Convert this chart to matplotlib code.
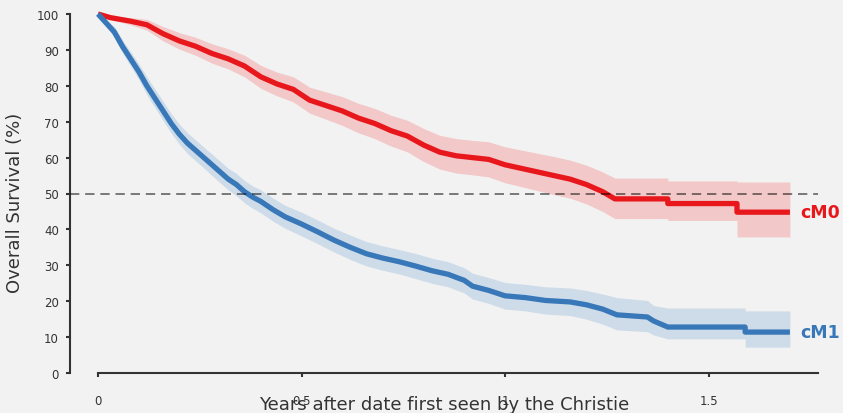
import matplotlib
matplotlib.use("Agg")
import matplotlib.pyplot as plt

plt.rcParams['font.family'] = ['DejaVu Sans']

# cM0 survival curve (years, %) with confidence band; repeated times are drops
red_t = [0, 0.03, 0.08, 0.12, 0.16, 0.20, 0.24, 0.28, 0.32, 0.36, 0.40, 0.44, 0.48,
         0.52, 0.56, 0.60, 0.64, 0.68, 0.72, 0.76, 0.80, 0.84, 0.88, 0.92, 0.96, 1.00,
         1.04, 1.08, 1.12, 1.16, 1.20, 1.24, 1.27, 1.40, 1.40, 1.57, 1.57, 1.70]
red_s = [100, 99, 98, 97, 94.5, 92.5, 91, 89, 87.5, 85.5, 82.5, 80.5, 79,
         76, 74.5, 73, 71, 69.5, 67.5, 66, 63.5, 61.5, 60.5, 60, 59.5, 58,
         57, 56, 55, 54, 52.5, 50.5, 48.5, 48.5, 47.2, 47.2, 44.8, 44.8]
red_lo = [100, 98.5, 97, 95.5, 92.5, 90.2, 88.5, 86.3, 84.7, 82.5, 79.3, 77.2, 75.5,
          72.4, 70.7, 69, 66.9, 65.3, 63.2, 61.6, 58.9, 56.8, 55.7, 55.2, 54.6, 53,
          51.9, 50.8, 49.7, 48.7, 47.1, 45, 43, 43, 42.5, 42.5, 37.9, 37.9]
red_hi = [100, 99.5, 99, 98.5, 96.5, 94.8, 93.5, 91.7, 90.3, 88.5, 85.7, 83.8, 82.5,
          79.6, 78.3, 77, 75.1, 73.7, 71.8, 70.4, 68.1, 66.2, 65.3, 64.8, 64.4, 63,
          62.1, 61.2, 60.3, 59.3, 57.9, 56, 54.3, 54.3, 53.5, 53.5, 53.2, 53.2]

# cM1 survival curve
blue_t = [0, 0.02, 0.04, 0.06, 0.08, 0.10, 0.12, 0.14, 0.16, 0.18, 0.20, 0.22, 0.24,
          0.26, 0.28, 0.30, 0.32, 0.34, 0.36, 0.38, 0.40, 0.43, 0.46, 0.50, 0.54, 0.58,
          0.62, 0.66, 0.70, 0.74, 0.78, 0.82, 0.86, 0.90, 0.92, 0.96, 1.00, 1.05, 1.10,
          1.16, 1.20, 1.24, 1.275, 1.35, 1.365, 1.40, 1.59, 1.59, 1.70]
blue_s = [100, 97.5, 95, 91, 87.5, 84, 80, 76.5, 73, 69.5, 66.5, 64, 62,
          60, 58, 56, 54, 52.5, 50.5, 49, 47.8, 45.5, 43.5, 41.5, 39.3, 37,
          35, 33.2, 32, 31, 29.8, 28.5, 27.5, 25.8, 24.2, 23, 21.5, 21, 20.2,
          19.8, 19, 17.8, 16.2, 15.6, 14.5, 12.8, 12.8, 11.4, 11.4]
blue_lo = [100, 96.7, 93.5, 89.2, 85.5, 81.8, 77.5, 73.9, 70.3, 66.8, 63.7, 61.1, 59.1,
           57.1, 55, 53, 51, 49.4, 47.4, 45.9, 44.6, 42.3, 40.3, 38.2, 36, 33.7,
           31.6, 29.8, 28.6, 27.6, 26.3, 25, 24, 22.3, 20.6, 19.4, 17.8, 17.3, 16.4,
           16, 15, 13.6, 12, 11.5, 10.6, 9.5, 9.5, 7.2, 7.2]
blue_hi = [100, 98.3, 96.5, 92.8, 89.5, 86.2, 82.5, 79.1, 75.7, 72.2, 69.3, 66.9, 64.9,
           62.9, 61, 59, 57, 55.6, 53.6, 52.1, 51, 48.7, 46.7, 44.8, 42.6, 40.3,
           38.4, 36.6, 35.4, 34.4, 33.3, 32, 31, 29.3, 27.8, 26.6, 25.2, 24.7, 24,
           23.7, 23, 22, 21, 20.2, 18.8, 18.1, 18.1, 17.3, 17.3]

x_ticks = [0, 0.5, 1, 1.5]
x_tick_labels = ['0', '0.5', '1', '1.5']
y_ticks = list(range(0, 101, 10))

bg = '#f2f2f2'
red = '#e8171c'
red_band = '#f2c8c9'
blue = '#3878b8'
blue_band = '#cedce9'
ink = '#333333'

fig = plt.figure(figsize=(8.43, 4.14), dpi=100, facecolor=bg)
ax = fig.add_axes([70 / 843, 40 / 414, 748 / 843, 359 / 414], facecolor=bg)

ax.fill_between(red_t, red_lo, red_hi, color=red_band, lw=0, zorder=1)
ax.fill_between(blue_t, blue_lo, blue_hi, color=blue_band, lw=0, zorder=1)
ax.plot(red_t, red_s, color=red, lw=3.8, zorder=3, clip_on=False,
        solid_capstyle='butt')
ax.plot(blue_t, blue_s, color=blue, lw=3.8, zorder=3, clip_on=False,
        solid_capstyle='butt')

# median line
ax.axhline(50, color='black', alpha=0.5, lw=1.4, dashes=(4.8, 3), zorder=4)

ax.text(red_t[-1] + 0.025, red_s[-1], 'cM0', color=red, fontsize=12.5,
        fontweight='bold', va='center', ha='left')
ax.text(blue_t[-1] + 0.025, blue_s[-1], 'cM1', color=blue, fontsize=12.5,
        fontweight='bold', va='center', ha='left')

ax.set_xlim(-28 / 407, 720 / 407)
ax.set_ylim(0, 100)

for s in ['top', 'right']:
    ax.spines[s].set_visible(False)
ax.spines['left'].set_bounds(0, 100)
ax.spines['bottom'].set_bounds(0, 720 / 407)
for s in ['left', 'bottom']:
    ax.spines[s].set_color(ink)
    ax.spines[s].set_linewidth(1.5)

ax.set_xticks(x_ticks)
ax.set_xticklabels(x_tick_labels)
ax.set_yticks(y_ticks)
ax.tick_params(axis='y', direction='out', length=3, width=1.5, color=ink,
               labelsize=8.5, pad=5, labelcolor=ink)
ax.tick_params(axis='x', direction='out', length=3, width=1.5, color=ink,
               labelsize=8.5, pad=12, labelcolor=ink)

ax.set_ylabel('Overall Survival (%)', fontsize=13, color=ink, va='center')
ax.yaxis.set_label_coords(-0.0735, 0.476)
ax.set_xlabel('Years after date first seen by the Christie', fontsize=13,
              color=ink, va='center')
ax.xaxis.set_label_coords(0.5, -0.086)

fig.savefig('out.png', dpi=100, facecolor=bg)
